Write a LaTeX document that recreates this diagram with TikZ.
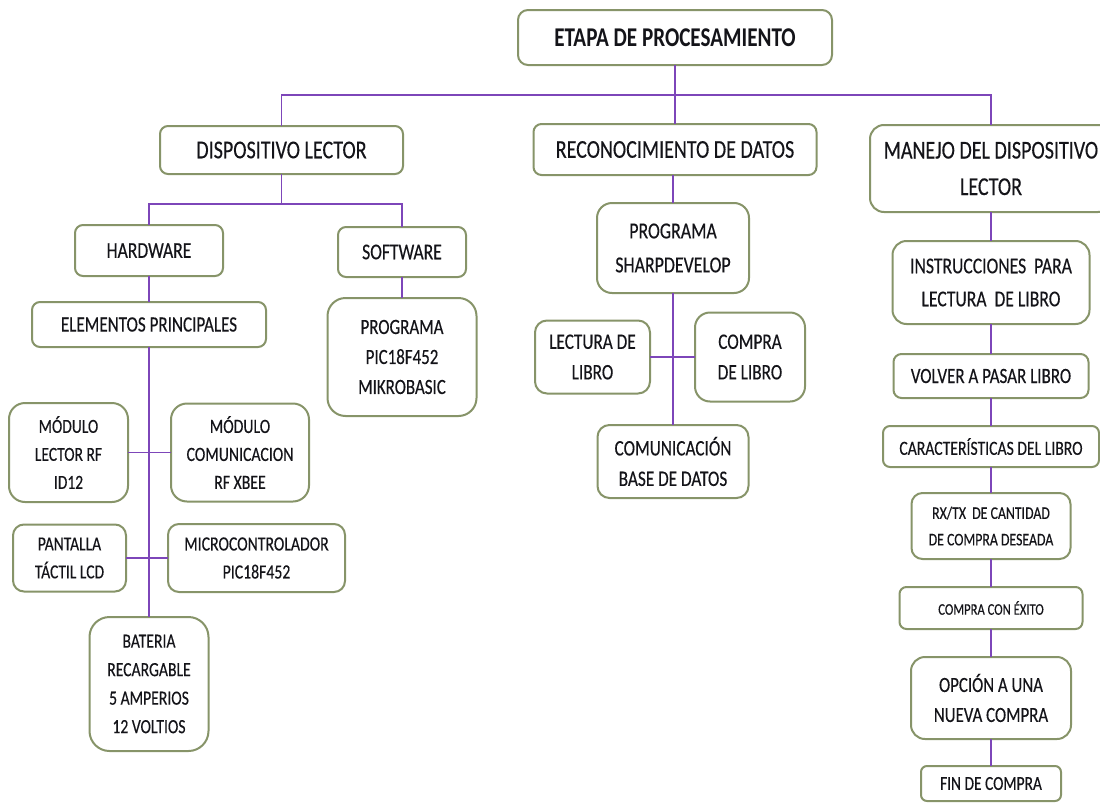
\documentclass[tikz,border=0pt]{standalone}
\usepackage{fontspec}
\setmainfont{Carlito}[FakeStretch=0.78, UprightFeatures={FakeBold=0.3}]
\definecolor{boxline}{RGB}{135,148,105}
\definecolor{purp}{RGB}{125,70,185}
\definecolor{txt}{RGB}{20,20,25}
\tikzset{
  box/.style={draw=boxline, line width=2pt, fill=white, inner sep=0pt, outer sep=0pt, align=center, text=txt},
  rc/.style={rounded corners=#1pt},
  fz/.style 2 args={font=\fontsize{#1pt}{#2pt}\selectfont},
  conn/.style={draw=purp, line width=1.4pt},
}
\newcommand\bx[7]{\node[box, minimum width=#4pt, minimum height=#5pt, #6] (#1) at (#2,#3) {#7};}
\begin{document}
\begin{tikzpicture}[x=1pt,y=-1pt]
\useasboundingbox (0,0) rectangle (1100,803);
% root
\bx{root}{675}{37.5}{314}{55}{rc=10, font=\fontsize{27.1pt}{36pt}\selectfont\bfseries}{ETAPA DE PROCESAMIENTO}
% level 1
\bx{dl}{281.5}{150}{243}{48}{rc=8, fz={25.7}{36}}{DISPOSITIVO LECTOR}
\bx{rd}{675}{149.5}{283}{51}{rc=8, fz={25.7}{36}}{RECONOCIMIENTO DE DATOS}
\bx{md}{991}{168.5}{242}{87}{rc=14, fz={25.7}{36.5}}{MANEJO DEL DISPOSITIVO\\LECTOR}
% left subtree
\bx{hw}{149}{250.5}{148}{51}{rc=8, fz={22.6}{31}}{HARDWARE}
\bx{sw}{402}{252}{128}{50}{rc=8, fz={22.6}{31}}{SOFTWARE}
\bx{ep}{149}{324.5}{234}{45}{rc=8, fz={21.9}{31}}{ELEMENTOS PRINCIPALES}
\bx{pg}{402}{357}{149}{118}{rc=18, fz={21.7}{30}}{PROGRAMA\\PIC18F452\\MIKROBASIC}
\bx{mlr}{68.5}{452.5}{119}{99}{rc=16, fz={19.9}{28}}{MÓDULO\\LECTOR RF\\ID12}
\bx{mcx}{240}{452.5}{138}{98}{rc=16, fz={20.2}{28}}{MÓDULO\\COMUNICACION\\RF XBEE}
\bx{pan}{69.5}{558}{113}{67}{rc=11, fz={19.9}{28}}{PANTALLA\\TÁCTIL LCD}
\bx{mic}{256.5}{558}{177}{68}{rc=11, fz={20.2}{28}}{MICROCONTROLADOR\\PIC18F452}
\bx{bat}{149}{684}{119}{134}{rc=20, fz={20.1}{28.5}}{BATERIA\\RECARGABLE\\5 AMPERIOS\\12 VOLTIOS}
% middle subtree
\bx{ps}{673}{248}{152}{90}{rc=15, fz={22.9}{34}}{PROGRAMA\\SHARPDEVELOP}
\bx{lec}{592.5}{357}{115}{73}{rc=12, fz={22.1}{30.5}}{LECTURA DE\\LIBRO}
\bx{cpl}{750}{357}{110}{89}{rc=15, fz={22.1}{30.5}}{COMPRA\\DE LIBRO}
\bx{cb}{673}{461.5}{151}{73}{rc=12, fz={22.1}{30.5}}{COMUNICACIÓN\\BASE DE DATOS}
% right subtree
\bx{ins}{991}{282.5}{197}{83}{rc=14, fz={22.6}{33}}{INSTRUCCIONES\ \ PARA\\LECTURA\ \ DE LIBRO}
\bx{vol}{991}{376}{195}{44}{rc=8, fz={21.8}{30}}{VOLVER A PASAR LIBRO}
\bx{car}{991}{446.5}{216}{41}{rc=7, fz={20.1}{28}}{CARACTERÍSTICAS DEL LIBRO}
\bx{rx}{991}{526}{159}{66}{rc=11, fz={17.7}{26.5}}{RX/TX\ \ DE CANTIDAD\\DE COMPRA DESEADA}
\bx{cce}{991}{608}{183}{42}{rc=7, fz={16.2}{24}}{COMPRA CON ÉXITO}
\bx{op}{991}{698}{160}{82}{rc=14, fz={21.6}{30}}{OPCIÓN A UNA\\NUEVA COMPRA}
\bx{fin}{991}{783.5}{140}{35}{rc=6, fz={19.8}{28}}{FIN DE COMPRA}
% connectors
\coordinate (t) at (675,95);
\draw[conn] (root.south) -- (t);
\draw[conn] (dl.north) |- (t) -| (md.north);
\draw[conn] (t) -- (rd.north);
\coordinate (l) at (281.5,204);
\draw[conn] (dl.south) -- (l);
\draw[conn] (hw.north) |- (l) -| (sw.north);
\draw[conn] (hw.south) -- (ep.north);
\draw[conn] (ep.south) -- (bat.north);
\draw[conn] (sw.south) -- (pg.north);
\draw[conn] (mlr.east) -- (mcx.west);
\draw[conn] (pan.east) -- (mic.west);
\draw[conn] (ps.north) -- (ps.north |- rd.south);
\draw[conn] (ps.south) -- (cb.north);
\draw[conn] (lec.east) -- (cpl.west);
\draw[conn] (md.south) -- (ins.north);
\draw[conn] (ins.south) -- (vol.north);
\draw[conn] (vol.south) -- (car.north);
\draw[conn] (car.south) -- (rx.north);
\draw[conn] (rx.south) -- (cce.north);
\draw[conn] (cce.south) -- (op.north);
\draw[conn] (op.south) -- (fin.north);
\end{tikzpicture}
\end{document}
